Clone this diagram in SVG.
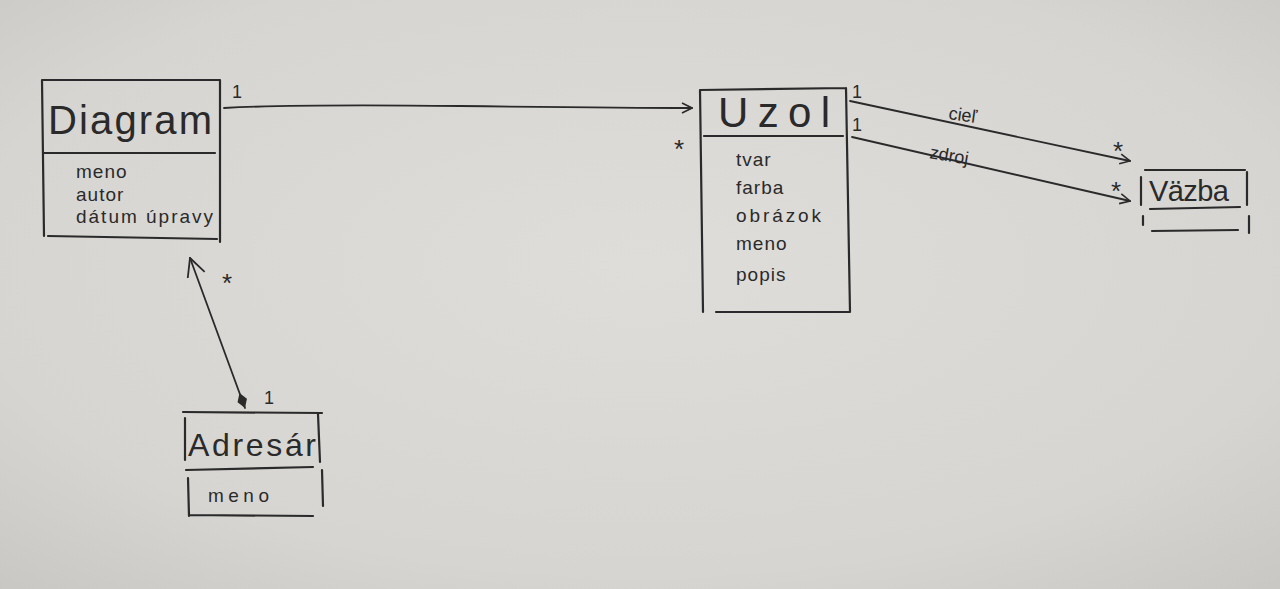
<svg xmlns="http://www.w3.org/2000/svg" width="1280" height="589" viewBox="0 0 1280 589">
<defs>
<radialGradient id="paper" cx="50%" cy="45%" r="75%">
<stop offset="0" stop-color="#dfddda"/>
<stop offset="0.7" stop-color="#d7d5d2"/>
<stop offset="1" stop-color="#c9c7c4"/>
</radialGradient>
<marker id="open" viewBox="0 0 12 12" refX="11" refY="6" markerWidth="12" markerHeight="12" markerUnits="userSpaceOnUse" orient="auto">
<path d="M1,1 L11,6 L1,11" fill="none" stroke="#2a2a2a" stroke-width="1.6"/>
</marker>
<marker id="openBig" viewBox="0 0 20 20" refX="19" refY="10" markerWidth="20" markerHeight="20" markerUnits="userSpaceOnUse" orient="auto">
<path d="M1,1 L19,10 L1,19" fill="none" stroke="#2a2a2a" stroke-width="1.8"/>
</marker>
<marker id="diamond" viewBox="0 0 18 12" refX="1" refY="6" markerWidth="18" markerHeight="12" markerUnits="userSpaceOnUse" orient="auto">
<path d="M1,6 L9,1 L17,6 L9,11 Z" fill="#2a2a2a"/>
</marker>
</defs>
<style>
.box{fill:none;stroke:#2a2a2a;stroke-width:2.2;stroke-linecap:round}
.ln{fill:none;stroke:#2a2a2a;stroke-width:1.8;stroke-linecap:round}
.title{font-family:"Liberation Sans",sans-serif;fill:#2a2a2a;font-weight:300}
.attr{font-family:"Liberation Sans",sans-serif;fill:#2a2a2a;font-size:19px;letter-spacing:1px}
.mult{font-family:"Liberation Sans",sans-serif;fill:#2a2a2a;font-size:18px}
.star{font-family:"Liberation Sans",sans-serif;fill:#2a2a2a;font-size:26px}
.lbl{font-family:"Liberation Sans",sans-serif;fill:#2a2a2a;font-size:18px}
</style>
<rect width="1280" height="589" fill="url(#paper)"/>

<g id="connectors">
<g id="diagram-uzol">
<path class="ln" d="M224,108 Q300,104 460,106 T692,108" marker-end="url(#open)"/>
<text class="mult" x="232" y="98">1</text>
<text class="star" x="674" y="158">*</text>
</g>
<g id="uzol-vazba-ciel">
<path class="ln" d="M850,101 L1130,161" marker-end="url(#open)"/>
<text class="mult" x="852" y="98">1</text>
<text class="star" x="1113" y="160">*</text>
<text class="lbl" x="948" y="119" transform="rotate(8 948 119)">cieľ</text>
</g>
<g id="uzol-vazba-zdroj">
<path class="ln" d="M852,137 L1130,201" marker-end="url(#open)"/>
<text class="mult" x="852" y="131">1</text>
<text class="star" x="1111" y="200">*</text>
<text class="lbl" x="929" y="158" transform="rotate(10 929 158)">zdroj</text>
</g>
<g id="diagram-adresar">
<path class="ln" d="M245,408 L190,258" marker-start="url(#diamond)" marker-end="url(#openBig)"/>
<text class="star" x="222" y="292">*</text>
<text class="mult" x="264" y="404">1</text>
</g>
</g>

<g id="diagram">
<path class="box" d="M42,80 L220,80 M42,80 L44,236 M220,80 L220,242 M44,153 L215,153 M48,236 L217,239"/>
<text class="title" x="48" y="134" font-size="40" letter-spacing="2" textLength="166" lengthAdjust="spacing">Diagram</text>
<text class="attr" x="76" y="178">meno</text>
<text class="attr" x="76" y="201">autor</text>
<text class="attr" x="76" y="223" textLength="138" lengthAdjust="spacing">dátum úpravy</text>
</g>

<g id="uzol">
<path class="box" d="M700,90 L846,88 M700,90 L703,312 M846,88 L850,312 M704,136 L843,136 M716,312 L850,312"/>
<text class="title" x="718" y="127" font-size="42" textLength="112" lengthAdjust="spacing">Uzol</text>
<text class="attr" x="736" y="166">tvar</text>
<text class="attr" x="736" y="194">farba</text>
<text class="attr" x="736" y="222" textLength="86" lengthAdjust="spacing">obrázok</text>
<text class="attr" x="736" y="250">meno</text>
<text class="attr" x="736" y="281">popis</text>
</g>

<g id="vazba">
<path class="box" d="M1145,170 L1245,170 M1141,177 L1141,205 M1247,172 L1247,205 M1150,209 L1240,207 M1143,216 L1143,225 M1249,216 L1249,233 M1152,231 L1238,230"/>
<text class="title" x="1149" y="201" font-size="29" textLength="80" lengthAdjust="spacing">Väzba</text>
</g>

<g id="adresar">
<path class="box" d="M183,412 L322,413 M185,418 L185,460 M318,414 L320,462 M186,470 L313,467 M188,478 L189,516 M322,470 L323,506 M190,515 L313,516"/>
<text class="title" x="188" y="456" font-size="32" textLength="128" lengthAdjust="spacing">Adresár</text>
<text class="attr" x="208" y="502" font-size="21" letter-spacing="0" textLength="62" lengthAdjust="spacing">meno</text>
</g>
</svg>
